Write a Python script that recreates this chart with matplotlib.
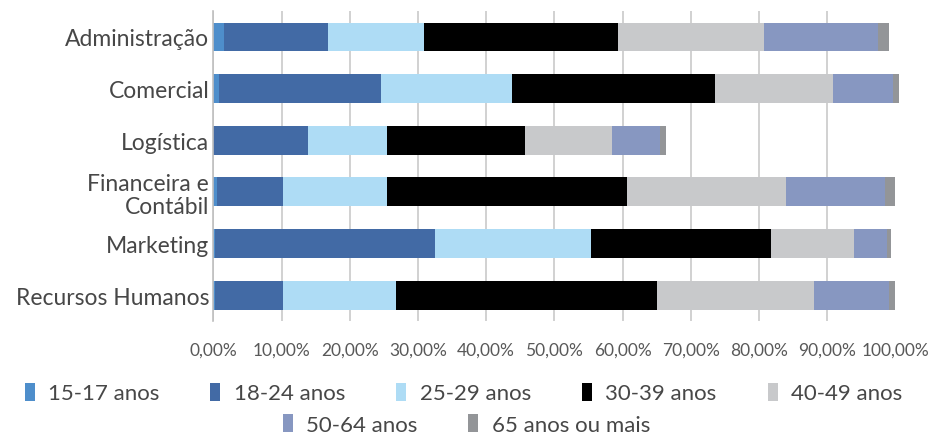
import matplotlib
matplotlib.use("Agg")
import matplotlib.pyplot as plt
from matplotlib.ticker import FuncFormatter
import numpy as np

plt.rcParams['font.family'] = ['Lato', 'DejaVu Sans']

# areas (top to bottom)
areas = ['Administração', 'Comercial', 'Logística', 'Financeira e\nContábil',
         'Marketing', 'Recursos Humanos']
faixas = ['15-17 anos', '18-24 anos', '25-29 anos', '30-39 anos',
          '40-49 anos', '50-64 anos', '65 anos ou mais']

# percentuais por faixa etaria, mesma ordem das areas
f15_17 = [1.55, 0.8, 0.0, 0.5, 0.2, 0.2]
f18_24 = [15.25, 23.8, 13.9, 9.7, 32.3, 10.0]
f25_29 = [14.1, 19.2, 11.6, 15.3, 22.8, 16.6]
f30_39 = [28.5, 29.7, 20.2, 35.2, 26.4, 38.3]
f40_49 = [21.4, 17.3, 12.8, 23.2, 12.2, 22.9]
f50_64 = [16.7, 8.8, 7.0, 14.6, 4.9, 11.1]
f65 = [1.6, 0.9, 0.9, 1.5, 0.5, 0.9]

series = [f15_17, f18_24, f25_29, f30_39, f40_49, f50_64, f65]
cores = ['#4E8ECB', '#426AA5', '#AEDCF5', '#000000', '#C8C9CB', '#8797C1', '#939598']

fig = plt.figure(figsize=(9.42, 4.35), dpi=100)
ax = fig.add_axes([0.2265, 0.26, 0.9505 - 0.2265, 0.972 - 0.26])

y = np.arange(len(areas))
left = np.zeros(len(areas))
barras = []
for vals, cor, nome in zip(series, cores, faixas):
    vals = np.array(vals) / 100
    b = ax.barh(y, vals, left=left, height=0.56, color=cor, label=nome, clip_on=False)
    barras.append(b)
    left += vals

ax.set_xlim(0, 1)
ax.set_ylim(len(areas) - 0.5, -0.5)
ax.set_xticks(np.arange(0, 1.01, 0.1))
ax.xaxis.set_major_formatter(FuncFormatter(lambda v, p: f'{v*100:.2f}%'.replace('.', ',')))
ax.set_yticks(y)
ax.set_yticklabels(areas, fontsize=16.5, color='#474747', linespacing=1.15)
for t in ax.get_xticklabels():
    t.set_fontsize(12.5)
    t.set_color('#595959')

ax.tick_params(axis='both', length=0, pad=3)
ax.tick_params(axis='x', pad=15)
ax.set_axisbelow(True)
ax.xaxis.grid(True, color='#C9C9C9', linewidth=1.2)
ax.get_xgridlines()[-1].set_visible(False)
for s in ['top', 'right', 'bottom']:
    ax.spines[s].set_visible(False)
ax.spines['left'].set_color('#BFBFBF')
ax.spines['left'].set_linewidth(1.2)

leg_kw = dict(frameon=False, fontsize=16, handlelength=0.45, handleheight=0.85,
              handletextpad=0.6, columnspacing=2.3, borderpad=0, loc='center')
leg1 = fig.legend(barras[:5], faixas[:5], ncol=5, bbox_to_anchor=(0.492, 0.094), **leg_kw)
leg2 = fig.legend(barras[5:], faixas[5:], ncol=2, bbox_to_anchor=(0.495, 0.022), **leg_kw)
for leg in (leg1, leg2):
    for t in leg.get_texts():
        t.set_color('#474747')

fig.savefig('out.png', dpi=100)
